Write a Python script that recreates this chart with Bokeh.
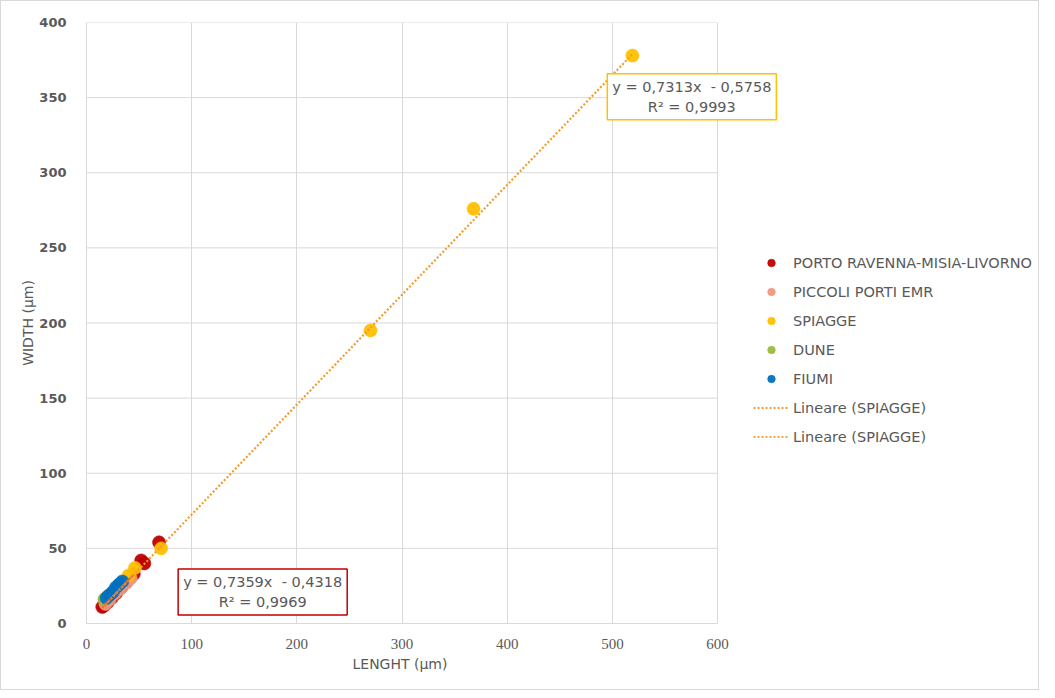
from bokeh.plotting import figure
from bokeh.models import (ColumnDataSource, Label, Legend, LegendItem, FixedTicker,
                          Range1d, Title)
from bokeh.embed import file_html
from bokeh.resources import INLINE

# ---------------- data ----------------
porto_x = [15, 17, 20, 24, 28, 33, 38, 45, 52, 55, 69]
porto_y = [11, 12, 14, 17, 20, 24, 28, 33, 42, 40, 54]

piccoli_x = [18, 22, 27, 32, 38, 42]
piccoli_y = [13, 16, 20, 23, 27, 30]

spiagge_x = [40, 46, 71, 270, 368, 519]
spiagge_y = [32, 37, 50, 195, 276, 378]

dune_x = [17, 20]
dune_y = [16, 18]

fiumi_x = [19, 22, 25, 28, 31, 34]
fiumi_y = [17, 19, 21, 24, 26, 28]

# trendline coefficients (as printed on the chart)
trend1_slope, trend1_icpt = 0.7313, -0.5758
trend1_range = [15, 519]
trend2_slope, trend2_icpt = 0.7359, -0.4318
trend2_range = [15, 45]

trend1_text = "y = 0,7313x\u00a0 - 0,5758\nR\u00b2 = 0,9993"
trend2_text = "y = 0,7359x\u00a0 - 0,4318\nR\u00b2 = 0,9969"

x_ticks = [0, 100, 200, 300, 400, 500, 600]
y_ticks = [0, 50, 100, 150, 200, 250, 300, 350, 400]

series_names = ["PORTO RAVENNA-MISIA-LIVORNO", "PICCOLI PORTI EMR", "SPIAGGE", "DUNE", "FIUMI"]
series_colors = ["#C00000", "#F0987E", "#FFC000", "#9BBB3B", "#0070C0"]

GRID = "#D9D9D9"
TXT = "#595959"

# ---------------- figure ----------------
# frame spans the legend area too; x axis / grid are bounded to 0..600
p = figure(width=1039, height=690, output_backend="svg", toolbar_location=None,
           x_range=Range1d(0, 907), y_range=Range1d(0, 400),
           min_border_left=85, min_border_right=0, min_border_top=21,
           min_border_bottom=68)
p.styles = {"border": "1px solid #D9D9D9"}
p.outline_line_color = None
p.background_fill_color = "white"
p.border_fill_color = "white"

for ax in (p.xaxis[0], p.yaxis[0]):
    ax.axis_line_color = GRID
    ax.major_tick_line_color = None
    ax.minor_tick_line_color = None
    ax.major_label_text_color = TXT
    ax.axis_label_text_color = TXT
    ax.axis_label_text_font_style = "normal"
    ax.axis_label_text_font_size = "14px"
    ax.axis_label_text_font = "DejaVu Sans"

p.xaxis.ticker = FixedTicker(ticks=x_ticks)
p.yaxis.ticker = FixedTicker(ticks=y_ticks)
p.xaxis.bounds = (x_ticks[0], x_ticks[-1])
p.xaxis.major_label_text_font = "Liberation Sans Narrow"
p.xaxis.major_label_text_font_size = "15px"
p.yaxis.major_label_text_font = "DejaVu Sans"
p.yaxis.major_label_text_font_style = "bold"
p.yaxis.major_label_text_font_size = "13px"
p.xaxis.major_label_standoff = 9
p.yaxis.major_label_standoff = 14
p.yaxis.axis_label = "WIDTH (\u03bcm)"
p.yaxis.axis_label_standoff = 0

# x-axis title, placed under the 0..600 part of the axis
xtitle = Title(text="LENGHT (\u03bcm)", align="left", offset=266, standoff=5,
               text_font="DejaVu Sans", text_font_size="14px",
               text_font_style="normal", text_color=TXT)
p.add_layout(xtitle, "below")

p.xgrid.grid_line_color = GRID
p.ygrid.grid_line_color = None
# horizontal grid lines limited to the 0..600 data area
p.segment(x0=[x_ticks[0]] * len(y_ticks), x1=[x_ticks[-1]] * len(y_ticks),
          y0=y_ticks, y1=y_ticks, line_color=GRID, line_width=1, level="underlay")

renderers = []
for name, xs, ys, col in zip(series_names,
                             [porto_x, piccoli_x, spiagge_x, dune_x, fiumi_x],
                             [porto_y, piccoli_y, spiagge_y, dune_y, fiumi_y],
                             series_colors):
    src = ColumnDataSource(dict(x=xs, y=ys))
    r = p.scatter("x", "y", source=src, size=13, fill_color=col, line_color=col,
                  fill_alpha=0.95, line_alpha=0.6)
    renderers.append(r)

t1x = trend1_range
t1y = [trend1_slope * v + trend1_icpt for v in t1x]
tr1 = p.line(t1x, t1y, line_color="#F39C2C", line_width=2.2, line_dash="2 2")
t2x = trend2_range
t2y = [trend2_slope * v + trend2_icpt for v in t2x]
tr2 = p.line(t2x, t2y, line_color="#E8703A", line_width=2.5, line_dash="2 1")
leg_tr2 = p.line([None], [None], line_color="#F5A23A", line_width=2, line_dash="2 2")

items = [LegendItem(label=n, renderers=[r]) for n, r in zip(series_names, renderers)]
items.append(LegendItem(label="Lineare (SPIAGGE)", renderers=[tr1]))
items.append(LegendItem(label="Lineare (SPIAGGE)", renderers=[leg_tr2]))
legend = Legend(items=items, location=(667, 177), padding=0, margin=0,
                glyph_width=36, glyph_height=19, label_height=19, spacing=10,
                label_standoff=4, label_text_font="DejaVu Sans",
                label_text_font_size="14.5px", label_text_color=TXT,
                border_line_color=None, background_fill_alpha=0)
p.add_layout(legend, "center")

lab1 = Label(x=575.5, y=350.5, text=trend1_text, text_align="center",
             text_baseline="middle", text_font="DejaVu Sans", text_font_size="14.5px",
             text_color=TXT, border_line_color="#FFC000", border_line_width=1.5,
             background_fill_color="white", padding=5, text_line_height=1.25)
lab2 = Label(x=167.5, y=21, text=trend2_text, text_align="center",
             text_baseline="middle", text_font="DejaVu Sans", text_font_size="14.5px",
             text_color=TXT, border_line_color="#C00000", border_line_width=1.5,
             background_fill_color="white", padding=5, text_line_height=1.25)
p.add_layout(lab1)
p.add_layout(lab2)

open("out.html", "w").write(file_html(p, INLINE))
